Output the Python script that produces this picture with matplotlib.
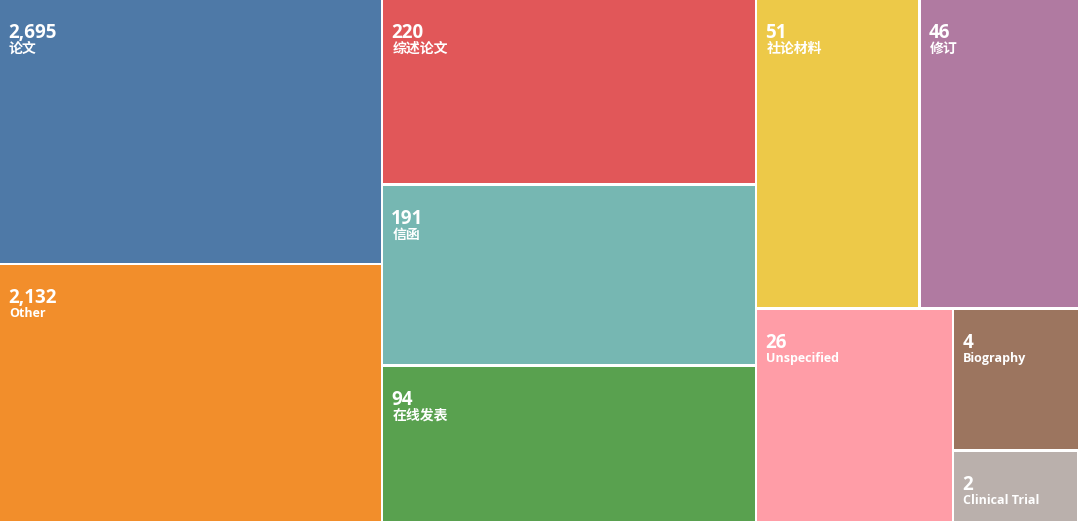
import math

import matplotlib

matplotlib.use("Agg")
import matplotlib.pyplot as plt
from matplotlib.patches import Rectangle

# publication types, tile area is proportional to ln(count)
labels = ["论文", "Other", "综述论文", "信函", "在线发表", "社论材料", "修订",
          "Unspecified", "Biography", "Clinical Trial"]
counts = [2695, 2132, 220, 191, 94, 51, 46, 26, 4, 2]
colors = ["#4e79a7", "#f28e2b", "#e15759", "#76b7b2", "#59a14f", "#edc948",
          "#b07aa1", "#ff9da7", "#9c755f", "#bab0ac"]

W, H = 1080, 523
FONTS = ["Open Sans", "Noto Sans CJK SC", "DejaVu Sans"]


def squarify(values, x0, y0, x1, y1, ratio=(1 + math.sqrt(5)) / 2):
    """d3-style squarified layout, returns (x, y, w, h) per value."""
    out = []
    i0 = i1 = 0
    n = len(values)
    total = sum(values)
    while i0 < n:
        dx, dy = x1 - x0, y1 - y0
        s = values[i1]
        i1 += 1
        vmin = vmax = s
        alpha = max(dy / dx, dx / dy) / (total * ratio)
        beta = s * s * alpha
        best = max(vmax / beta, beta / vmin)
        while i1 < n:
            v = values[i1]
            s += v
            vmin, vmax = min(vmin, v), max(vmax, v)
            beta = s * s * alpha
            r = max(vmax / beta, beta / vmin)
            if r > best:
                s -= v
                break
            best = r
            i1 += 1
        row = values[i0:i1]
        if dx < dy:  # row across the top
            h = dy * s / total
            x = x0
            for v in row:
                w = dx * v / s
                out.append((x, y0, w, h))
                x += w
            y0 += h
        else:  # column on the left
            w = dx * s / total
            y = y0
            for v in row:
                h = dy * v / s
                out.append((x0, y, w, h))
                y += h
            x0 += w
        total -= s
        i0 = i1
    return out


weights = [math.log(c) for c in counts]
rects = squarify(weights, 0, 0, W, H)

fig = plt.figure(figsize=(10.8, 5.23), dpi=100)
ax = fig.add_axes([0, 0, 1, 1])
ax.set_xlim(0, W)
ax.set_ylim(H, 0)
ax.axis("off")

GAP = 2.5
for (x, y, w, h), lab, c, col in zip(rects, labels, counts, colors):
    ax.add_patch(Rectangle((x, y), w - GAP, h - GAP, facecolor=col,
                           edgecolor="none"))
    ax.text(x + 8, y + 23, f"{c:,}", color="white", fontsize=13.5,
            fontweight="bold", family=FONTS, va="top", ha="left")
    # CJK glyphs come out a touch small next to the latin ones
    fs = 9 if lab.isascii() else 10
    ax.text(x + 9, y + 42, lab, color="white", fontsize=fs,
            fontweight="bold", family=FONTS, va="top", ha="left")

fig.savefig("out.png", dpi=100, facecolor="white")
